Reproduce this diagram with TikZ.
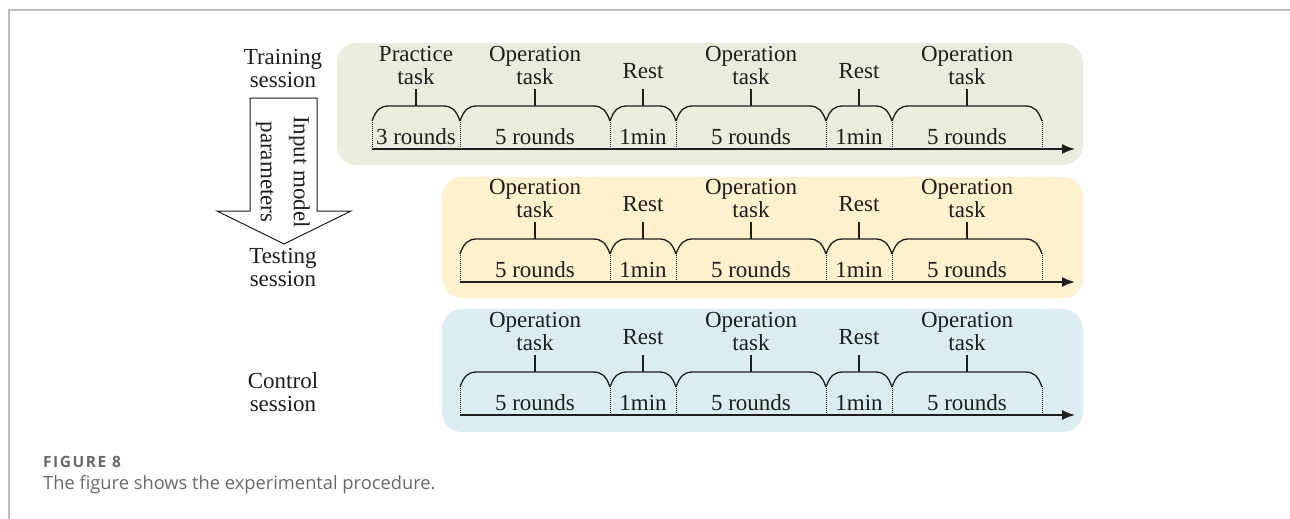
\documentclass[tikz,border=0pt]{standalone}
\usepackage{fontspec}
\setmainfont{Liberation Serif}
\newfontfamily\capfont{Open Sans}
\newfontfamily\capfontsp[LetterSpace=10]{Open Sans}
\usetikzlibrary{arrows.meta}
\definecolor{gbox}{RGB}{231,238,222}
\definecolor{ybox}{RGB}{253,241,206}
\definecolor{bbox}{RGB}{220,237,242}
\definecolor{ink}{RGB}{30,30,30}
\definecolor{framegray}{RGB}{190,190,190}
\definecolor{capgray}{RGB}{105,105,105}
\tikzset{
  lbl/.style={font=\fontsize{23}{23}\selectfont, text=ink, align=center, inner sep=0pt},
  panel/.style={rounded corners=20pt, draw=none},
  bracel/.style={draw=ink, line width=1.3pt},
  sepl/.style={draw=ink, line width=1pt, densely dotted},
  axisl/.style={draw=ink, line width=1.6pt, -{Latex[length=13pt,width=10pt]}},
  blockarrow/.style={draw=ink, line width=1pt, fill=white},
}
% #1 xa, #2 xb, #3 axis y, #4 top label, #5 bottom label, #6 name, #7 top baseline offset
\newcommand\mkseg[7]{%
  \draw[sepl] ({#1},{#3-29}) -- ({#1},{#3});
  \draw[sepl] ({#2},{#3-29}) -- ({#2},{#3});
  \draw[bracel] ({#1},{#3-28}) .. controls ({#1+4},{#3-39}) and ({#1+8},{#3-43}) .. ({#1+17},{#3-43})
     -- ({#2-17},{#3-43}) .. controls ({#2-8},{#3-43}) and ({#2-4},{#3-39}) .. ({#2},{#3-28});
  \coordinate (#6a) at ({(#1+#2)/2},{#3-43});
  \coordinate (#6c) at ({(#1+#2)/2},{#3-60});
  \draw[bracel] (#6a) -- (#6c);
  \node[lbl, anchor=south, text depth=0pt] (#6t) at ({(#1+#2)/2},{#3-#7}) {#4};
  \node[lbl, anchor=base] (#6b) at ({(#1+#2)/2},{#3-5}) {#5};
}
\newcommand\mkrow[2]{%
  \mkseg{460}{610}{#1}{Operation\\task}{5 rounds}{#2s1}{64}
  \mkseg{610}{676}{#1}{Rest}{1min}{#2s2}{70}
  \mkseg{676}{826}{#1}{Operation\\task}{5 rounds}{#2s3}{64}
  \mkseg{826}{892}{#1}{Rest}{1min}{#2s4}{70}
  \mkseg{892}{1042}{#1}{Operation\\task}{5 rounds}{#2s5}{64}
}
\begin{document}
\begin{tikzpicture}[x=1pt,y=-1pt]
\useasboundingbox (0,0) rectangle (1290,519);
\fill[white] (0,0) rectangle (1290,519);
% page frame
\draw[framegray, line width=1.5pt] (9,519) -- (9,10) -- (1290,10);
% panels
\fill[gbox, panel] (337,43) rectangle (1083,165);
\fill[ybox, panel] (442,177) rectangle (1083,298);
\fill[bbox, panel] (442,309) rectangle (1083,432);
% training row
\mkseg{372}{460}{149}{Practice\\task}{3 rounds}{gp}{64}
\mkrow{149}{g}
\coordinate (gstart) at (372,149);
\coordinate (gend) at (1075,149);
\draw[axisl] (gstart) -- (gend);
% testing row
\mkrow{282}{y}
\coordinate (ystart) at (460,282);
\coordinate (yend) at (1075,282);
\draw[axisl] (ystart) -- (yend);
% control row
\mkrow{415}{b}
\coordinate (bstart) at (460,415);
\coordinate (bend) at (1075,415);
\draw[axisl] (bstart) -- (bend);
% session labels
\node[lbl, anchor=south, text depth=0pt] (train) at (283,88) {Training\\session};
\node[lbl, anchor=south, text depth=0pt] (test) at (283,287) {Testing\\session};
\node[lbl, anchor=south, text depth=0pt] (ctrl) at (283,412) {Control\\session};
% block arrow
\draw[blockarrow] (250,98) -- (317,98) -- (317,211) -- (351,211) -- (284,244) -- (217,211) -- (250,211) -- cycle;
\node[lbl, rotate=-90, font=\fontsize{23}{33}\selectfont] (param) at (283,172) {Input model\\parameters};
% caption
\node[anchor=base west, inner sep=0pt, text=capgray, font=\capfontsp\bfseries\fontsize{15.5}{17}\selectfont] (figno) at (43,467) {FIGURE 8};
\node[anchor=base west, inner sep=0pt, text=capgray, font=\capfont\fontsize{18.3}{21}\selectfont] (figcap) at (43,489) {The figure shows the experimental procedure.};
\end{tikzpicture}
\end{document}
